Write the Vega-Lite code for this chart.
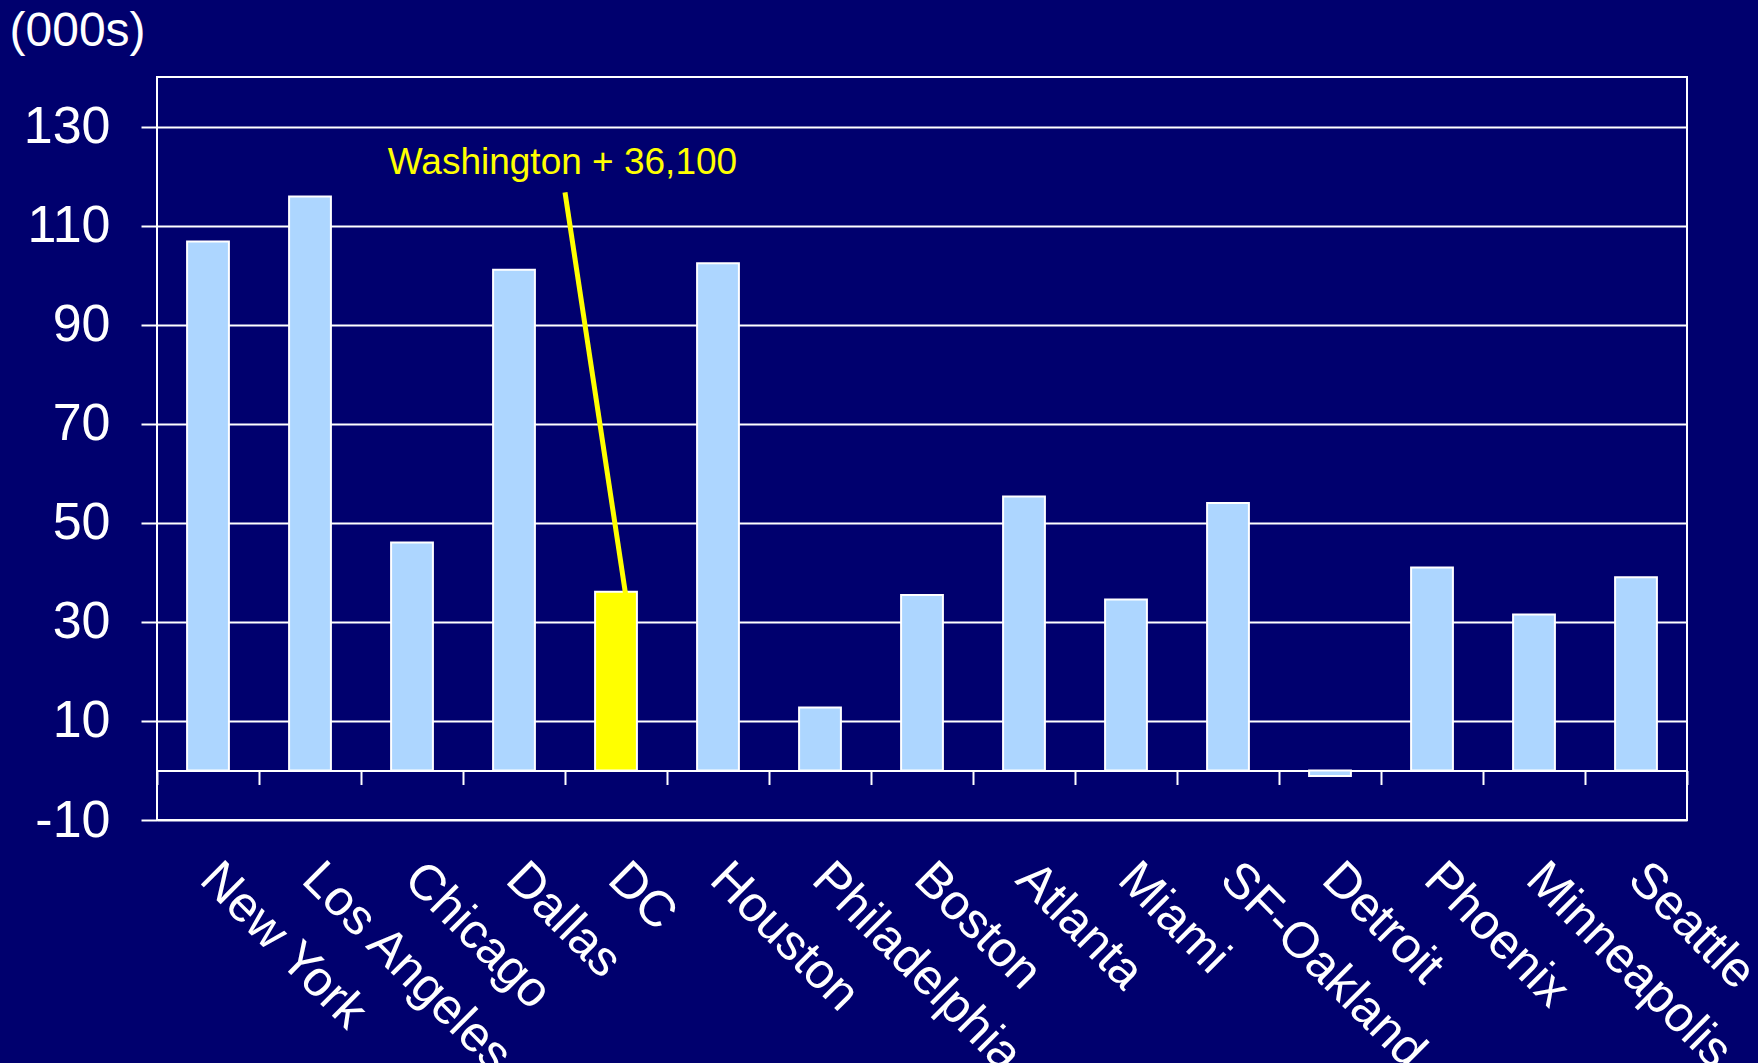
{
  "$schema": "https://vega.github.io/schema/vega-lite/v6.json",
  "autosize": {"type": "none"},
  "width": 1530,
  "height": 743,
  "padding": {"left": 157, "top": 77, "right": 71, "bottom": 243},
  "background": "#00006E",
  "config": {"view": {"stroke": "#FFFFFF", "strokeWidth": 2}, "font": "Liberation Sans"},
  "datasets": {
    "jobs": [
      {"city": "New York", "change": 106.8},
      {"city": "Los Angeles", "change": 115.9},
      {"city": "Chicago", "change": 46.0},
      {"city": "Dallas", "change": 101.1},
      {"city": "DC", "change": 36.1},
      {"city": "Houston", "change": 102.4},
      {"city": "Philadelphia", "change": 12.7},
      {"city": "Boston", "change": 35.4},
      {"city": "Atlanta", "change": 55.3},
      {"city": "Miami", "change": 34.5},
      {"city": "SF-Oakland", "change": 54.0},
      {"city": "Detroit", "change": -1.1},
      {"city": "Phoenix", "change": 41.0},
      {"city": "Minneapolis", "change": 31.5},
      {"city": "Seattle", "change": 39.0}
    ],
    "note": [
      {"label": "Washington + 36,100", "tx": 3.975, "ty": 120.5, "x1": 4.0, "y1": 116.7, "x2": 4.61, "y2": 33.4}
    ]
  },
  "layer": [
    {
      "data": {"name": "jobs"},
      "mark": {"type": "bar", "stroke": "#FFFFFF", "strokeWidth": 2, "width": {"band": 0.41}},
      "encoding": {
        "x": {
          "field": "city", "type": "nominal", "sort": null,
          "scale": {"paddingInner": 0, "paddingOuter": 0},
          "axis": {
            "orient": "bottom", "offset": -49.5, "tickBand": "extent",
            "ticks": true, "tickSize": 14, "tickColor": "#FFFFFF", "tickWidth": 2,
            "domain": true, "domainColor": "#FFFFFF", "domainWidth": 2,
            "grid": false, "title": null,
            "labelAngle": 45, "labelAlign": "left", "labelBaseline": "middle",
            "labelFontSize": 50, "labelColor": "#FFFFFF", "labelFont": "Liberation Sans",
            "labelPadding": 86, "labelLimit": 0, "labelOverlap": false, "labelBound": false, "labelFlush": false
          }
        },
        "y": {
          "field": "change", "type": "quantitative",
          "scale": {"domain": [-10, 140], "nice": false, "zero": false},
          "axis": {
            "values": [-10, 10, 30, 50, 70, 90, 110, 130],
            "labelExpr": "'' + datum.value",
            "title": "(000s)", "titleAngle": 0, "titleAlign": "left", "titleAnchor": null,
            "titleX": -148, "titleY": -32, "titleBaseline": "alphabetic",
            "titleFontSize": 48, "titleFontWeight": "normal", "titleColor": "#FFFFFF", "titleFont": "Liberation Sans",
            "labelFontSize": 52, "labelColor": "#FFFFFF", "labelFont": "Liberation Sans", "labelPadding": 31,
            "tickSize": 16, "tickColor": "#FFFFFF", "tickWidth": 2,
            "grid": true, "gridColor": "#FFFFFF", "gridWidth": 2, "gridOpacity": 1,
            "domain": false
          }
        },
        "color": {"condition": {"test": "datum.city === 'DC'", "value": "#FFFF00"}, "value": "#ADD6FF"}
      }
    },
    {
      "data": {"name": "note"},
      "mark": {"type": "rule", "color": "#FFFF00", "strokeWidth": 5},
      "encoding": {
        "x": {"field": "x1", "type": "quantitative", "scale": {"domain": [0, 15], "nice": false, "zero": false}, "axis": null},
        "y": {"field": "y1", "type": "quantitative", "title": "(000s)"},
        "x2": {"field": "x2"},
        "y2": {"field": "y2"}
      }
    },
    {
      "data": {"name": "note"},
      "mark": {"type": "text", "color": "#FFFF00", "fontSize": 37, "align": "center", "baseline": "alphabetic", "font": "Liberation Sans"},
      "encoding": {
        "x": {"field": "tx", "type": "quantitative", "scale": {"domain": [0, 15], "nice": false, "zero": false}, "axis": null},
        "y": {"field": "ty", "type": "quantitative", "title": "(000s)"},
        "text": {"field": "label"}
      }
    }
  ],
  "resolve": {"scale": {"x": "independent"}, "axis": {"x": "independent"}}
}
